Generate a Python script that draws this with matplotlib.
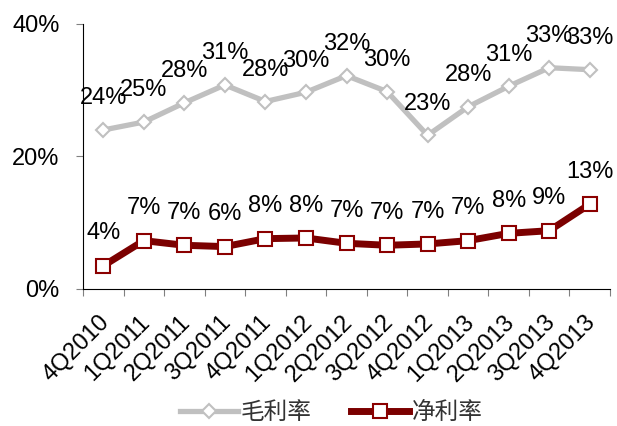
import matplotlib
matplotlib.use("Agg")
import matplotlib.pyplot as plt
import matplotlib.transforms as mtransforms

plt.rcParams['font.family'] = ['Liberation Sans', 'Noto Sans CJK SC', 'DejaVu Sans']

quarters = ["4Q2010", "1Q2011", "2Q2011", "3Q2011", "4Q2011", "1Q2012", "2Q2012",
            "3Q2012", "4Q2012", "1Q2013", "2Q2013", "3Q2013", "4Q2013"]
gross_margin = [24.0, 25.2, 28.1, 30.8, 28.3, 29.7, 32.2, 29.8, 23.2, 27.5, 30.6, 33.4, 33.1]
net_margin = [3.5, 7.3, 6.6, 6.4, 7.6, 7.7, 6.9, 6.6, 6.8, 7.3, 8.4, 8.8, 12.8]
series_names = ["毛利率", "净利率"]
yticks = [0, 20, 40]

fig = plt.figure(figsize=(6.17, 4.26), dpi=100)
ax = fig.add_axes([0.1345, 0.3216, 0.8542, 0.6221])

x = list(range(len(quarters)))
ax.plot(x, gross_margin, color='#C0C0C0', lw=3.8, marker='D', ms=7.5,
        mfc='white', mec='#C0C0C0', mew=1.5, label=series_names[0], zorder=3)
ax.plot(x, net_margin, color='#7B0000', lw=5, marker='s', ms=10,
        mfc='white', mec='#8B0000', mew=1.5, label=series_names[1], zorder=4)

for xi, v in zip(x, gross_margin):
    ax.annotate(f"{v:.0f}%", (xi, v), xytext=(0, 18.5), textcoords='offset points',
                ha='center', va='baseline', fontsize=17, color='black', zorder=5)
for xi, v in zip(x, net_margin):
    ax.annotate(f"{v:.0f}%", (xi, v), xytext=(0, 19), textcoords='offset points',
                ha='center', va='baseline', fontsize=17, color='black', zorder=5)

ax.set_xlim(-0.5, len(quarters) - 0.5)
ax.set_ylim(0, 40)
ax.set_yticks(yticks)
ax.set_yticklabels([f"{t}%" for t in yticks], fontsize=17)

ax.set_xticks([i - 0.5 for i in range(len(quarters) + 1)])
ax.set_xticklabels([])
ax.set_xticks(x, minor=True)
ax.set_xticklabels(quarters, minor=True, rotation=45, ha='right', va='top',
                   rotation_mode='anchor', fontsize=17)
ax.tick_params(axis='x', which='minor', length=0, pad=16)
ax.tick_params(axis='x', which='major', length=5, color='#808080', direction='out')
ax.tick_params(axis='y', length=5, color='#808080', direction='out', pad=12)

offset = mtransforms.ScaledTranslation(-5/100, 0, fig.dpi_scale_trans)
for lbl in ax.get_xticklabels(minor=True):
    lbl.set_transform(lbl.get_transform() + offset)

for s in ['top', 'right']:
    ax.spines[s].set_visible(False)
ax.spines['left'].set_color('black')
ax.spines['bottom'].set_color('black')

leg = fig.legend(loc='center', bbox_to_anchor=(0.537, 0.032), ncol=2, frameon=False,
                 fontsize=17, handlelength=2.45, columnspacing=1.7, handletextpad=0.1,
                 borderpad=0, borderaxespad=0)
for t in leg.get_texts():
    t.set_fontfamily(['Noto Sans CJK SC', 'DejaVu Sans'])
    t.set_color('#333333')

fig.savefig('out.png', dpi=100)
